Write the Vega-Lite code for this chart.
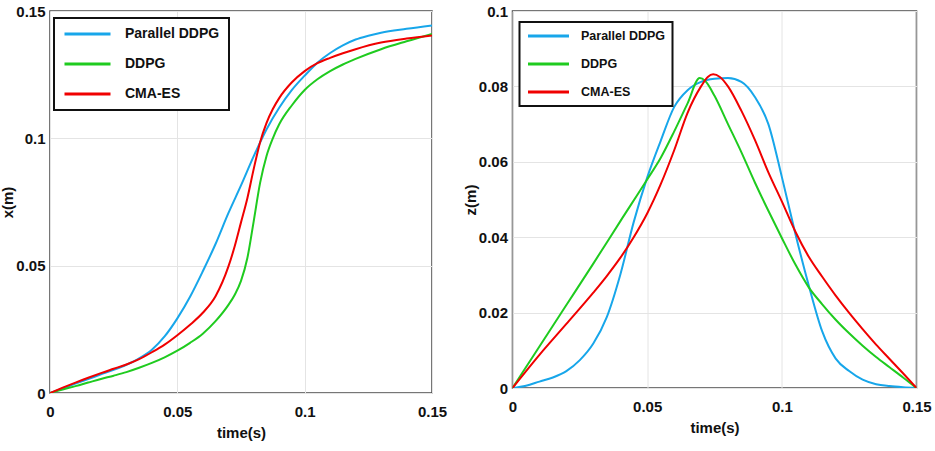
{
  "$schema": "https://vega.github.io/schema/vega-lite/v6.json",
  "background": "white",
  "padding": {"left": 0, "top": 3, "right": 4, "bottom": 5},
  "spacing": 14.5,
  "datasets": {
    "left": [
      {"t": 0, "v": 0, "m": "Parallel DDPG"}, {"t": 0.005, "v": 0.0018, "m": "Parallel DDPG"}, {"t": 0.01, "v": 0.0037, "m": "Parallel DDPG"}, {"t": 0.015, "v": 0.0055, "m": "Parallel DDPG"}, {"t": 0.02, "v": 0.0073, "m": "Parallel DDPG"}, {"t": 0.025, "v": 0.0091, "m": "Parallel DDPG"}, {"t": 0.03, "v": 0.0111, "m": "Parallel DDPG"}, {"t": 0.035, "v": 0.0136, "m": "Parallel DDPG"}, {"t": 0.04, "v": 0.017, "m": "Parallel DDPG"}, {"t": 0.045, "v": 0.0222, "m": "Parallel DDPG"}, {"t": 0.05, "v": 0.0293, "m": "Parallel DDPG"}, {"t": 0.055, "v": 0.0378, "m": "Parallel DDPG"}, {"t": 0.06, "v": 0.0478, "m": "Parallel DDPG"}, {"t": 0.065, "v": 0.0585, "m": "Parallel DDPG"}, {"t": 0.07, "v": 0.0705, "m": "Parallel DDPG"}, {"t": 0.075, "v": 0.0815, "m": "Parallel DDPG"}, {"t": 0.08, "v": 0.093, "m": "Parallel DDPG"}, {"t": 0.085, "v": 0.1035, "m": "Parallel DDPG"}, {"t": 0.09, "v": 0.112, "m": "Parallel DDPG"}, {"t": 0.095, "v": 0.119, "m": "Parallel DDPG"}, {"t": 0.1, "v": 0.1246, "m": "Parallel DDPG"}, {"t": 0.105, "v": 0.1297, "m": "Parallel DDPG"}, {"t": 0.11, "v": 0.1335, "m": "Parallel DDPG"}, {"t": 0.115, "v": 0.1365, "m": "Parallel DDPG"}, {"t": 0.12, "v": 0.1388, "m": "Parallel DDPG"}, {"t": 0.125, "v": 0.1403, "m": "Parallel DDPG"}, {"t": 0.13, "v": 0.1415, "m": "Parallel DDPG"}, {"t": 0.14, "v": 0.143, "m": "Parallel DDPG"}, {"t": 0.15, "v": 0.1443, "m": "Parallel DDPG"},
      {"t": 0, "v": 0, "m": "DDPG"}, {"t": 0.005, "v": 0.0014, "m": "DDPG"}, {"t": 0.01, "v": 0.0027, "m": "DDPG"}, {"t": 0.015, "v": 0.0041, "m": "DDPG"}, {"t": 0.02, "v": 0.0055, "m": "DDPG"}, {"t": 0.025, "v": 0.0068, "m": "DDPG"}, {"t": 0.03, "v": 0.0082, "m": "DDPG"}, {"t": 0.035, "v": 0.0099, "m": "DDPG"}, {"t": 0.04, "v": 0.0118, "m": "DDPG"}, {"t": 0.045, "v": 0.014, "m": "DDPG"}, {"t": 0.05, "v": 0.0166, "m": "DDPG"}, {"t": 0.055, "v": 0.0197, "m": "DDPG"}, {"t": 0.06, "v": 0.0233, "m": "DDPG"}, {"t": 0.065, "v": 0.0282, "m": "DDPG"}, {"t": 0.07, "v": 0.0345, "m": "DDPG"}, {"t": 0.0725, "v": 0.0385, "m": "DDPG"}, {"t": 0.075, "v": 0.044, "m": "DDPG"}, {"t": 0.0775, "v": 0.053, "m": "DDPG"}, {"t": 0.08, "v": 0.0675, "m": "DDPG"}, {"t": 0.0825, "v": 0.0825, "m": "DDPG"}, {"t": 0.085, "v": 0.093, "m": "DDPG"}, {"t": 0.0875, "v": 0.1, "m": "DDPG"}, {"t": 0.09, "v": 0.1055, "m": "DDPG"}, {"t": 0.095, "v": 0.113, "m": "DDPG"}, {"t": 0.1, "v": 0.119, "m": "DDPG"}, {"t": 0.105, "v": 0.1232, "m": "DDPG"}, {"t": 0.11, "v": 0.1264, "m": "DDPG"}, {"t": 0.115, "v": 0.129, "m": "DDPG"}, {"t": 0.12, "v": 0.1312, "m": "DDPG"}, {"t": 0.13, "v": 0.135, "m": "DDPG"}, {"t": 0.14, "v": 0.1381, "m": "DDPG"}, {"t": 0.15, "v": 0.141, "m": "DDPG"},
      {"t": 0, "v": 0, "m": "CMA-ES"}, {"t": 0.005, "v": 0.0021, "m": "CMA-ES"}, {"t": 0.01, "v": 0.0041, "m": "CMA-ES"}, {"t": 0.015, "v": 0.006, "m": "CMA-ES"}, {"t": 0.02, "v": 0.0078, "m": "CMA-ES"}, {"t": 0.025, "v": 0.0095, "m": "CMA-ES"}, {"t": 0.03, "v": 0.0112, "m": "CMA-ES"}, {"t": 0.035, "v": 0.0133, "m": "CMA-ES"}, {"t": 0.04, "v": 0.016, "m": "CMA-ES"}, {"t": 0.045, "v": 0.019, "m": "CMA-ES"}, {"t": 0.05, "v": 0.0227, "m": "CMA-ES"}, {"t": 0.055, "v": 0.0268, "m": "CMA-ES"}, {"t": 0.06, "v": 0.0315, "m": "CMA-ES"}, {"t": 0.065, "v": 0.038, "m": "CMA-ES"}, {"t": 0.07, "v": 0.0495, "m": "CMA-ES"}, {"t": 0.0725, "v": 0.0575, "m": "CMA-ES"}, {"t": 0.075, "v": 0.067, "m": "CMA-ES"}, {"t": 0.0775, "v": 0.0765, "m": "CMA-ES"}, {"t": 0.08, "v": 0.088, "m": "CMA-ES"}, {"t": 0.0825, "v": 0.0985, "m": "CMA-ES"}, {"t": 0.085, "v": 0.106, "m": "CMA-ES"}, {"t": 0.0875, "v": 0.1115, "m": "CMA-ES"}, {"t": 0.09, "v": 0.1158, "m": "CMA-ES"}, {"t": 0.095, "v": 0.122, "m": "CMA-ES"}, {"t": 0.1, "v": 0.1264, "m": "CMA-ES"}, {"t": 0.105, "v": 0.1295, "m": "CMA-ES"}, {"t": 0.11, "v": 0.1316, "m": "CMA-ES"}, {"t": 0.115, "v": 0.1334, "m": "CMA-ES"}, {"t": 0.12, "v": 0.135, "m": "CMA-ES"}, {"t": 0.13, "v": 0.1376, "m": "CMA-ES"}, {"t": 0.14, "v": 0.1392, "m": "CMA-ES"}, {"t": 0.15, "v": 0.1404, "m": "CMA-ES"}
    ],
    "right": [
      {"t": 0, "v": 0, "m": "Parallel DDPG"}, {"t": 0.005, "v": 0.0006, "m": "Parallel DDPG"}, {"t": 0.01, "v": 0.0017, "m": "Parallel DDPG"}, {"t": 0.015, "v": 0.0028, "m": "Parallel DDPG"}, {"t": 0.02, "v": 0.0045, "m": "Parallel DDPG"}, {"t": 0.025, "v": 0.0074, "m": "Parallel DDPG"}, {"t": 0.03, "v": 0.0118, "m": "Parallel DDPG"}, {"t": 0.035, "v": 0.0188, "m": "Parallel DDPG"}, {"t": 0.04, "v": 0.03, "m": "Parallel DDPG"}, {"t": 0.045, "v": 0.044, "m": "Parallel DDPG"}, {"t": 0.05, "v": 0.0558, "m": "Parallel DDPG"}, {"t": 0.055, "v": 0.0655, "m": "Parallel DDPG"}, {"t": 0.06, "v": 0.0745, "m": "Parallel DDPG"}, {"t": 0.065, "v": 0.079, "m": "Parallel DDPG"}, {"t": 0.07, "v": 0.0812, "m": "Parallel DDPG"}, {"t": 0.075, "v": 0.082, "m": "Parallel DDPG"}, {"t": 0.08, "v": 0.0822, "m": "Parallel DDPG"}, {"t": 0.085, "v": 0.0812, "m": "Parallel DDPG"}, {"t": 0.09, "v": 0.0772, "m": "Parallel DDPG"}, {"t": 0.095, "v": 0.07, "m": "Parallel DDPG"}, {"t": 0.1, "v": 0.056, "m": "Parallel DDPG"}, {"t": 0.105, "v": 0.041, "m": "Parallel DDPG"}, {"t": 0.11, "v": 0.0272, "m": "Parallel DDPG"}, {"t": 0.115, "v": 0.015, "m": "Parallel DDPG"}, {"t": 0.12, "v": 0.0078, "m": "Parallel DDPG"}, {"t": 0.125, "v": 0.0045, "m": "Parallel DDPG"}, {"t": 0.13, "v": 0.0022, "m": "Parallel DDPG"}, {"t": 0.135, "v": 0.001, "m": "Parallel DDPG"}, {"t": 0.14, "v": 0.0005, "m": "Parallel DDPG"}, {"t": 0.145, "v": 0.0002, "m": "Parallel DDPG"}, {"t": 0.15, "v": 0, "m": "Parallel DDPG"},
      {"t": 0, "v": 0, "m": "DDPG"}, {"t": 0.01, "v": 0.011, "m": "DDPG"}, {"t": 0.02, "v": 0.022, "m": "DDPG"}, {"t": 0.03, "v": 0.033, "m": "DDPG"}, {"t": 0.04, "v": 0.0442, "m": "DDPG"}, {"t": 0.05, "v": 0.0553, "m": "DDPG"}, {"t": 0.055, "v": 0.061, "m": "DDPG"}, {"t": 0.06, "v": 0.068, "m": "DDPG"}, {"t": 0.065, "v": 0.0755, "m": "DDPG"}, {"t": 0.0695, "v": 0.0822, "m": "DDPG"}, {"t": 0.0715, "v": 0.0815, "m": "DDPG"}, {"t": 0.075, "v": 0.0775, "m": "DDPG"}, {"t": 0.08, "v": 0.07, "m": "DDPG"}, {"t": 0.085, "v": 0.0625, "m": "DDPG"}, {"t": 0.09, "v": 0.0545, "m": "DDPG"}, {"t": 0.095, "v": 0.047, "m": "DDPG"}, {"t": 0.1, "v": 0.0398, "m": "DDPG"}, {"t": 0.105, "v": 0.0328, "m": "DDPG"}, {"t": 0.11, "v": 0.0267, "m": "DDPG"}, {"t": 0.115, "v": 0.0222, "m": "DDPG"}, {"t": 0.12, "v": 0.0181, "m": "DDPG"}, {"t": 0.125, "v": 0.0145, "m": "DDPG"}, {"t": 0.13, "v": 0.0112, "m": "DDPG"}, {"t": 0.135, "v": 0.0082, "m": "DDPG"}, {"t": 0.14, "v": 0.0055, "m": "DDPG"}, {"t": 0.145, "v": 0.0028, "m": "DDPG"}, {"t": 0.15, "v": 0, "m": "DDPG"},
      {"t": 0, "v": 0, "m": "CMA-ES"}, {"t": 0.01, "v": 0.0088, "m": "CMA-ES"}, {"t": 0.02, "v": 0.017, "m": "CMA-ES"}, {"t": 0.03, "v": 0.0253, "m": "CMA-ES"}, {"t": 0.035, "v": 0.0297, "m": "CMA-ES"}, {"t": 0.04, "v": 0.0345, "m": "CMA-ES"}, {"t": 0.045, "v": 0.04, "m": "CMA-ES"}, {"t": 0.05, "v": 0.0463, "m": "CMA-ES"}, {"t": 0.055, "v": 0.054, "m": "CMA-ES"}, {"t": 0.06, "v": 0.063, "m": "CMA-ES"}, {"t": 0.065, "v": 0.073, "m": "CMA-ES"}, {"t": 0.07, "v": 0.08, "m": "CMA-ES"}, {"t": 0.0725, "v": 0.0825, "m": "CMA-ES"}, {"t": 0.0745, "v": 0.0832, "m": "CMA-ES"}, {"t": 0.077, "v": 0.0825, "m": "CMA-ES"}, {"t": 0.08, "v": 0.08, "m": "CMA-ES"}, {"t": 0.085, "v": 0.0735, "m": "CMA-ES"}, {"t": 0.09, "v": 0.0658, "m": "CMA-ES"}, {"t": 0.095, "v": 0.0572, "m": "CMA-ES"}, {"t": 0.1, "v": 0.0495, "m": "CMA-ES"}, {"t": 0.105, "v": 0.0415, "m": "CMA-ES"}, {"t": 0.11, "v": 0.0348, "m": "CMA-ES"}, {"t": 0.115, "v": 0.0295, "m": "CMA-ES"}, {"t": 0.12, "v": 0.0245, "m": "CMA-ES"}, {"t": 0.125, "v": 0.0199, "m": "CMA-ES"}, {"t": 0.13, "v": 0.0156, "m": "CMA-ES"}, {"t": 0.135, "v": 0.0115, "m": "CMA-ES"}, {"t": 0.14, "v": 0.0077, "m": "CMA-ES"}, {"t": 0.145, "v": 0.0039, "m": "CMA-ES"}, {"t": 0.15, "v": 0, "m": "CMA-ES"}
    ]
  },
  "hconcat": [
    {
      "width": 382,
      "height": 382,
      "data": {"name": "left"},
      "mark": {"type": "line", "strokeWidth": 2, "interpolate": "monotone", "clip": true},
      "encoding": {
        "x": {"field": "t", "type": "quantitative", "title": "time(s)",
              "scale": {"domain": [0, 0.15], "nice": false},
              "axis": {"values": [0, 0.05, 0.1, 0.15], "format": ".2~f", "labelPadding": 11, "titlePadding": 6}},
        "y": {"field": "v", "type": "quantitative", "title": "x(m)",
              "scale": {"domain": [0, 0.15], "nice": false},
              "axis": {"values": [0, 0.05, 0.1, 0.15], "format": ".2~f"}},
        "color": {"field": "m", "type": "nominal",
                  "scale": {"domain": ["Parallel DDPG", "DDPG", "CMA-ES"], "range": ["#17A6EA", "#1FCB1F", "#F00000"]},
                  "legend": {"orient": "none", "legendX": 4, "legendY": 7, "labelFontSize": 14, "symbolSize": 2116, "padding": 9, "labelOffset": 13, "rowPadding": 16}},
        "order": {"field": "t", "type": "quantitative"}
      }
    },
    {
      "width": 404,
      "height": 377,
      "data": {"name": "right"},
      "mark": {"type": "line", "strokeWidth": 2, "interpolate": "monotone", "clip": true},
      "encoding": {
        "x": {"field": "t", "type": "quantitative", "title": "time(s)",
              "scale": {"domain": [0, 0.15], "nice": false},
              "axis": {"values": [0, 0.05, 0.1, 0.15], "format": ".2~f", "labelPadding": 11, "titlePadding": 6}},
        "y": {"field": "v", "type": "quantitative", "title": "z(m)",
              "scale": {"domain": [0, 0.1], "nice": false},
              "axis": {"values": [0, 0.02, 0.04, 0.06, 0.08, 0.1], "format": ".2~f"}},
        "color": {"field": "m", "type": "nominal",
                  "scale": {"domain": ["Parallel DDPG", "DDPG", "CMA-ES"], "range": ["#17A6EA", "#1FCB1F", "#F00000"]},
                  "legend": {"orient": "none", "legendX": 7, "legendY": 11, "labelFontSize": 12.5, "symbolSize": 1681, "padding": 7, "labelOffset": 10.5, "rowPadding": 14}},
        "order": {"field": "t", "type": "quantitative"}
      }
    }
  ],
  "resolve": {"scale": {"color": "independent", "x": "independent", "y": "independent"}, "legend": {"color": "independent"}},
  "config": {
    "view": {"stroke": "#4a4a4a", "strokeWidth": 1.5},
    "axis": {
      "grid": true, "gridColor": "#e4e4e4", "gridWidth": 1,
      "domain": false, "ticks": false,
      "labelFlush": false, "labelOverlap": false,
      "labelFont": "Liberation Sans, Arial, sans-serif",
      "labelFontSize": 15, "labelFontWeight": "bold", "labelColor": "#111111", "labelPadding": 5,
      "titleFont": "Liberation Sans, Arial, sans-serif",
      "titleFontSize": 15, "titleFontWeight": "bold", "titleColor": "#111111", "titlePadding": 0
    },
    "legend": {
      "title": null,
      "symbolType": "stroke", "symbolStrokeWidth": 3,
      "clipHeight": 14,
      "labelFont": "Liberation Sans, Arial, sans-serif",
      "labelFontWeight": "bold", "labelColor": "#111111",
      "strokeColor": "#111111", "strokeWidth": 2, "fillColor": "white"
    }
  }
}
